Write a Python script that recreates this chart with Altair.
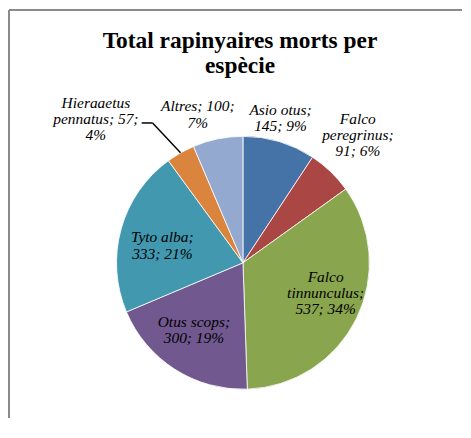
import altair as alt
import pandas as pd

# ---- data ----
categories = ["Asio otus", "Falco peregrinus", "Falco tinnunculus", "Otus scops",
              "Tyto alba", "Hieraaetus pennatus", "Altres"]
values = [145, 91, 537, 300, 333, 57, 100]
percents = [9, 6, 34, 19, 21, 4, 7]
wrapped_names = ["Asio otus;", "Falco\nperegrinus;", "Falco\ntinnunculus;", "Otus scops;",
                 "Tyto alba;", "Hieraaetus\npennatus;", "Altres;"]
label_style = ["A", "A", "A", "A", "A", "B", "B"]  # A: value on new line, B: percent on new line
colors = ["#4572A7", "#AA4643", "#89A54E", "#71588F", "#4198AF", "#DB843D", "#93A9CF"]
title_lines = ["Total rapinyaires morts per", "espècie"]

labels = []
for n, v, p, s in zip(wrapped_names, values, percents, label_style):
    if s == "A":
        labels.append(f"{n}\n{v}; {p}%")
    else:
        labels.append(f"{n} {v};\n{p}%")

df = pd.DataFrame({"idx": list(range(len(categories))), "category": categories,
                   "value": values, "label": labels,
                   "nlines": [lb.count("\n") + 1 for lb in labels]})

# ---- layout constants ----
W, H = 455, 410
CX, CY, R = 235, 254, 127
LH = 16.5
LEADER = "Hieraaetus pennatus"

lab_r = {"Asio otus": 152, "Falco peregrinus": 178, "Falco tinnunculus": 87,
         "Otus scops": 84, "Tyto alba": 83, "Altres": 152}
lab_dx = {"Asio otus": -6, "Falco peregrinus": -8, "Falco tinnunculus": 5,
          "Otus scops": -4, "Tyto alba": -1, "Altres": -15}
lab_dy = {"Falco tinnunculus": -8, "Otus scops": -3, "Tyto alba": 5}


def ternary(d, default=0):
    expr = str(default)
    for k, v in d.items():
        expr = f"(datum.category == '{k}' ? {v} : {expr})"
    return expr


base = alt.Chart(df)

pie = base.mark_arc(outerRadius=R, stroke="white", strokeWidth=0.8).encode(
    theta=alt.Theta("value:Q", stack=True),
    color=alt.Color("category:N", scale=alt.Scale(domain=categories, range=colors), legend=None),
    order=alt.Order("idx:Q"),
    x=alt.value(CX),
    y=alt.value(CY),
)

geo = base.transform_joinaggregate(total="sum(value)").transform_window(
    cum="sum(value)", sort=[alt.SortField("idx")], frame=[None, 0]
).transform_calculate(
    mid="(datum.cum - datum.value/2) / datum.total * 2 * PI"
).transform_calculate(
    sx=f"{CX} + {R} * sin(datum.mid)",
    sy=f"{CY} - {R} * cos(datum.mid)",
    lr=ternary(lab_r),
    ldx=ternary(lab_dx),
    ldy=ternary(lab_dy),
).transform_calculate(
    kx="datum.sx - 28", ky="datum.sy - 30",
).transform_calculate(
    ex="datum.kx - 11", ey="datum.ky",
).transform_calculate(
    lx=f"datum.category == '{LEADER}' ? datum.ex - 46 : {CX} + datum.lr * sin(datum.mid) + datum.ldx",
    lyc=f"datum.category == '{LEADER}' ? datum.ey - 4 : {CY} - datum.lr * cos(datum.mid) + datum.ldy",
).transform_calculate(
    ly=f"datum.lyc - (datum.nlines - 1) * {LH} / 2"
)

text = geo.mark_text(
    font="Liberation Serif", fontStyle="italic", fontSize=15.5, lineHeight=LH,
    lineBreak="\n", align="center", baseline="middle", color="#000000",
).encode(
    x=alt.X("lx:Q", scale=None),
    y=alt.Y("ly:Q", scale=None),
    text="label:N",
)

leader1 = geo.transform_filter(f"datum.category == '{LEADER}'").mark_rule(
    color="#000000", strokeWidth=1.5
).encode(
    x=alt.X("sx:Q", scale=None), y=alt.Y("sy:Q", scale=None),
    x2="kx:Q", y2="ky:Q",
)
leader2 = geo.transform_filter(f"datum.category == '{LEADER}'").mark_rule(
    color="#000000", strokeWidth=1.5
).encode(
    x=alt.X("kx:Q", scale=None), y=alt.Y("ky:Q", scale=None),
    x2="ex:Q", y2="ey:Q",
)

title = alt.Chart(pd.DataFrame({"t": ["\n".join(title_lines)]})).mark_text(
    font="Liberation Serif", fontWeight="bold", fontSize=23.5, lineHeight=25,
    lineBreak="\n", align="center", baseline="middle", color="#000000",
).encode(text="t:N", x=alt.value(232), y=alt.value(31))

border_top = alt.Chart(pd.DataFrame({"a": [0]})).mark_rule(color="#8a8a8a", strokeWidth=2).encode(
    x=alt.value(0), x2=alt.value(W), y=alt.value(0))
border_left = alt.Chart(pd.DataFrame({"a": [0]})).mark_rule(color="#8a8a8a", strokeWidth=2).encode(
    x=alt.value(0), y=alt.value(0), y2=alt.value(H))

chart = alt.layer(pie, leader1, leader2, text, title, border_top, border_left).properties(
    width=W, height=H, padding=0, background="white"
).configure_view(stroke=None)

chart.save("out.html", embed_options={"renderer": "svg", "actions": False})
